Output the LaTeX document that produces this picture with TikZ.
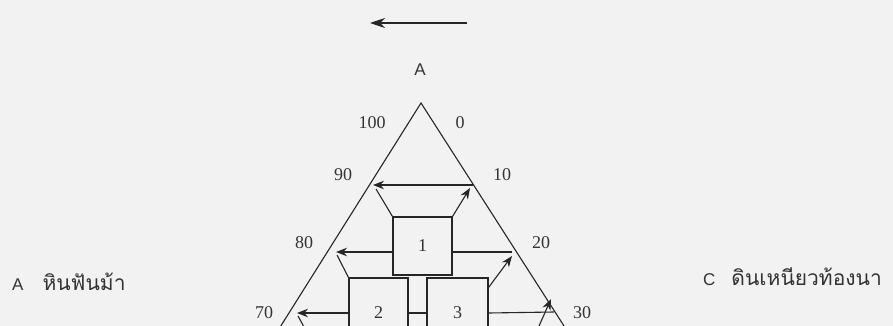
\documentclass[tikz,border=0pt]{standalone}
\usepackage{fontspec}
\setmainfont{Liberation Serif}
\setsansfont{Liberation Sans}
\newfontfamily\thaifont[Script=Thai]{Loma}
\usetikzlibrary{arrows.meta}

\begin{document}
\begin{tikzpicture}[
    x=1pt, y=-1pt,
    ink/.style={draw=black!85, line width=1.1pt},
    arrow/.style={ink, -{Stealth[length=11pt, width=8.5pt]}},
    box/.style={ink, minimum width=59pt, inner sep=0pt, text=black!80, font=\fontsize{18}{20}\selectfont},
    num/.style={text=black!80, font=\fontsize{18}{20}\selectfont, inner sep=0pt},
    legend/.style={text=black!80, font=\sffamily\fontsize{17}{20}\selectfont, inner sep=0pt, anchor=west}
]

\fill[black!5] (0,0) rectangle (893,326);
\clip (0,0) rectangle (893,326);

% triangle and corner label
\coordinate (apex) at (421,103);
\draw[ink] (272,340) -- (apex) -- (573,340);
\node[legend, anchor=center] (labA) at (420,70) {A};

% scale values
\node[num] (t100) at (372,123) {100};
\node[num] (t0) at (460,123) {0};
\node[num] (t90) at (343,175) {90};
\node[num] (t10) at (502,175) {10};
\node[num] (t80) at (304,243) {80};
\node[num] (t20) at (541,243) {20};
\node[num] (t70) at (264,313) {70};
\node[num] (t30) at (582,313) {30};

% zones
\node[box, minimum height=58pt] (box1) at (422.5,246) {1};
\node[box, minimum height=70pt] (box2) at (378.5,313) {2};
\node[box, minimum height=70pt, minimum width=61pt] (box3) at (457.5,313) {3};

% arrow ends
\coordinate (topR) at (467,23);
\coordinate (topL) at (370,23);
\coordinate (a10r) at (473,185);
\coordinate (a10l) at (373,185);
\coordinate (a20l) at (336,252);
\coordinate (a20r) at (512,252);
\coordinate (a30l) at (297,313);
\coordinate (a30d) at (314,345);
\coordinate (a30r) at (554,312);
\coordinate (a30t) at (551,299);
\coordinate (a30b) at (535,335);

\draw[arrow, -{Stealth[length=15pt, width=10pt]}] (topR) -- (topL);

\draw[arrow] (a10r) -- (a10l);
\draw[ink] (box1.north west) -- ([shift={(3,4)}]a10l);
\draw[arrow] (box1.north east) -- ([shift={(-3,3)}]a10r);

\draw[arrow] (box1.west |- a20l) -- (a20l);
\draw[ink] (box1.east |- a20r) -- (a20r);
\draw[ink] ([shift={(1,3)}]a20l) -- (box2.north west);
\draw[arrow] ([yshift=-10pt]box3.north east) -- ([yshift=-4pt]a20r);

\draw[arrow] (box2.west) -- (a30l);
\draw[ink] ([shift={(1,3)}]a30l) -- (a30d);
\draw[ink] (box2.east) -- (box3.west);
\draw[ink] (box3.east) -- (a30r);
\draw[arrow] (a30b) -- (a30t);

% legend
\node[legend] (legA) at (12,282) {A\hspace{19pt}{\thaifont\fontsize{21}{24}\selectfont หินฟันม้า}};
\node[legend] (legC) at (703,277) {C\hspace{16pt}{\thaifont\fontsize{21}{24}\selectfont ดินเหนียวท้องนา}};

\end{tikzpicture}
\end{document}
